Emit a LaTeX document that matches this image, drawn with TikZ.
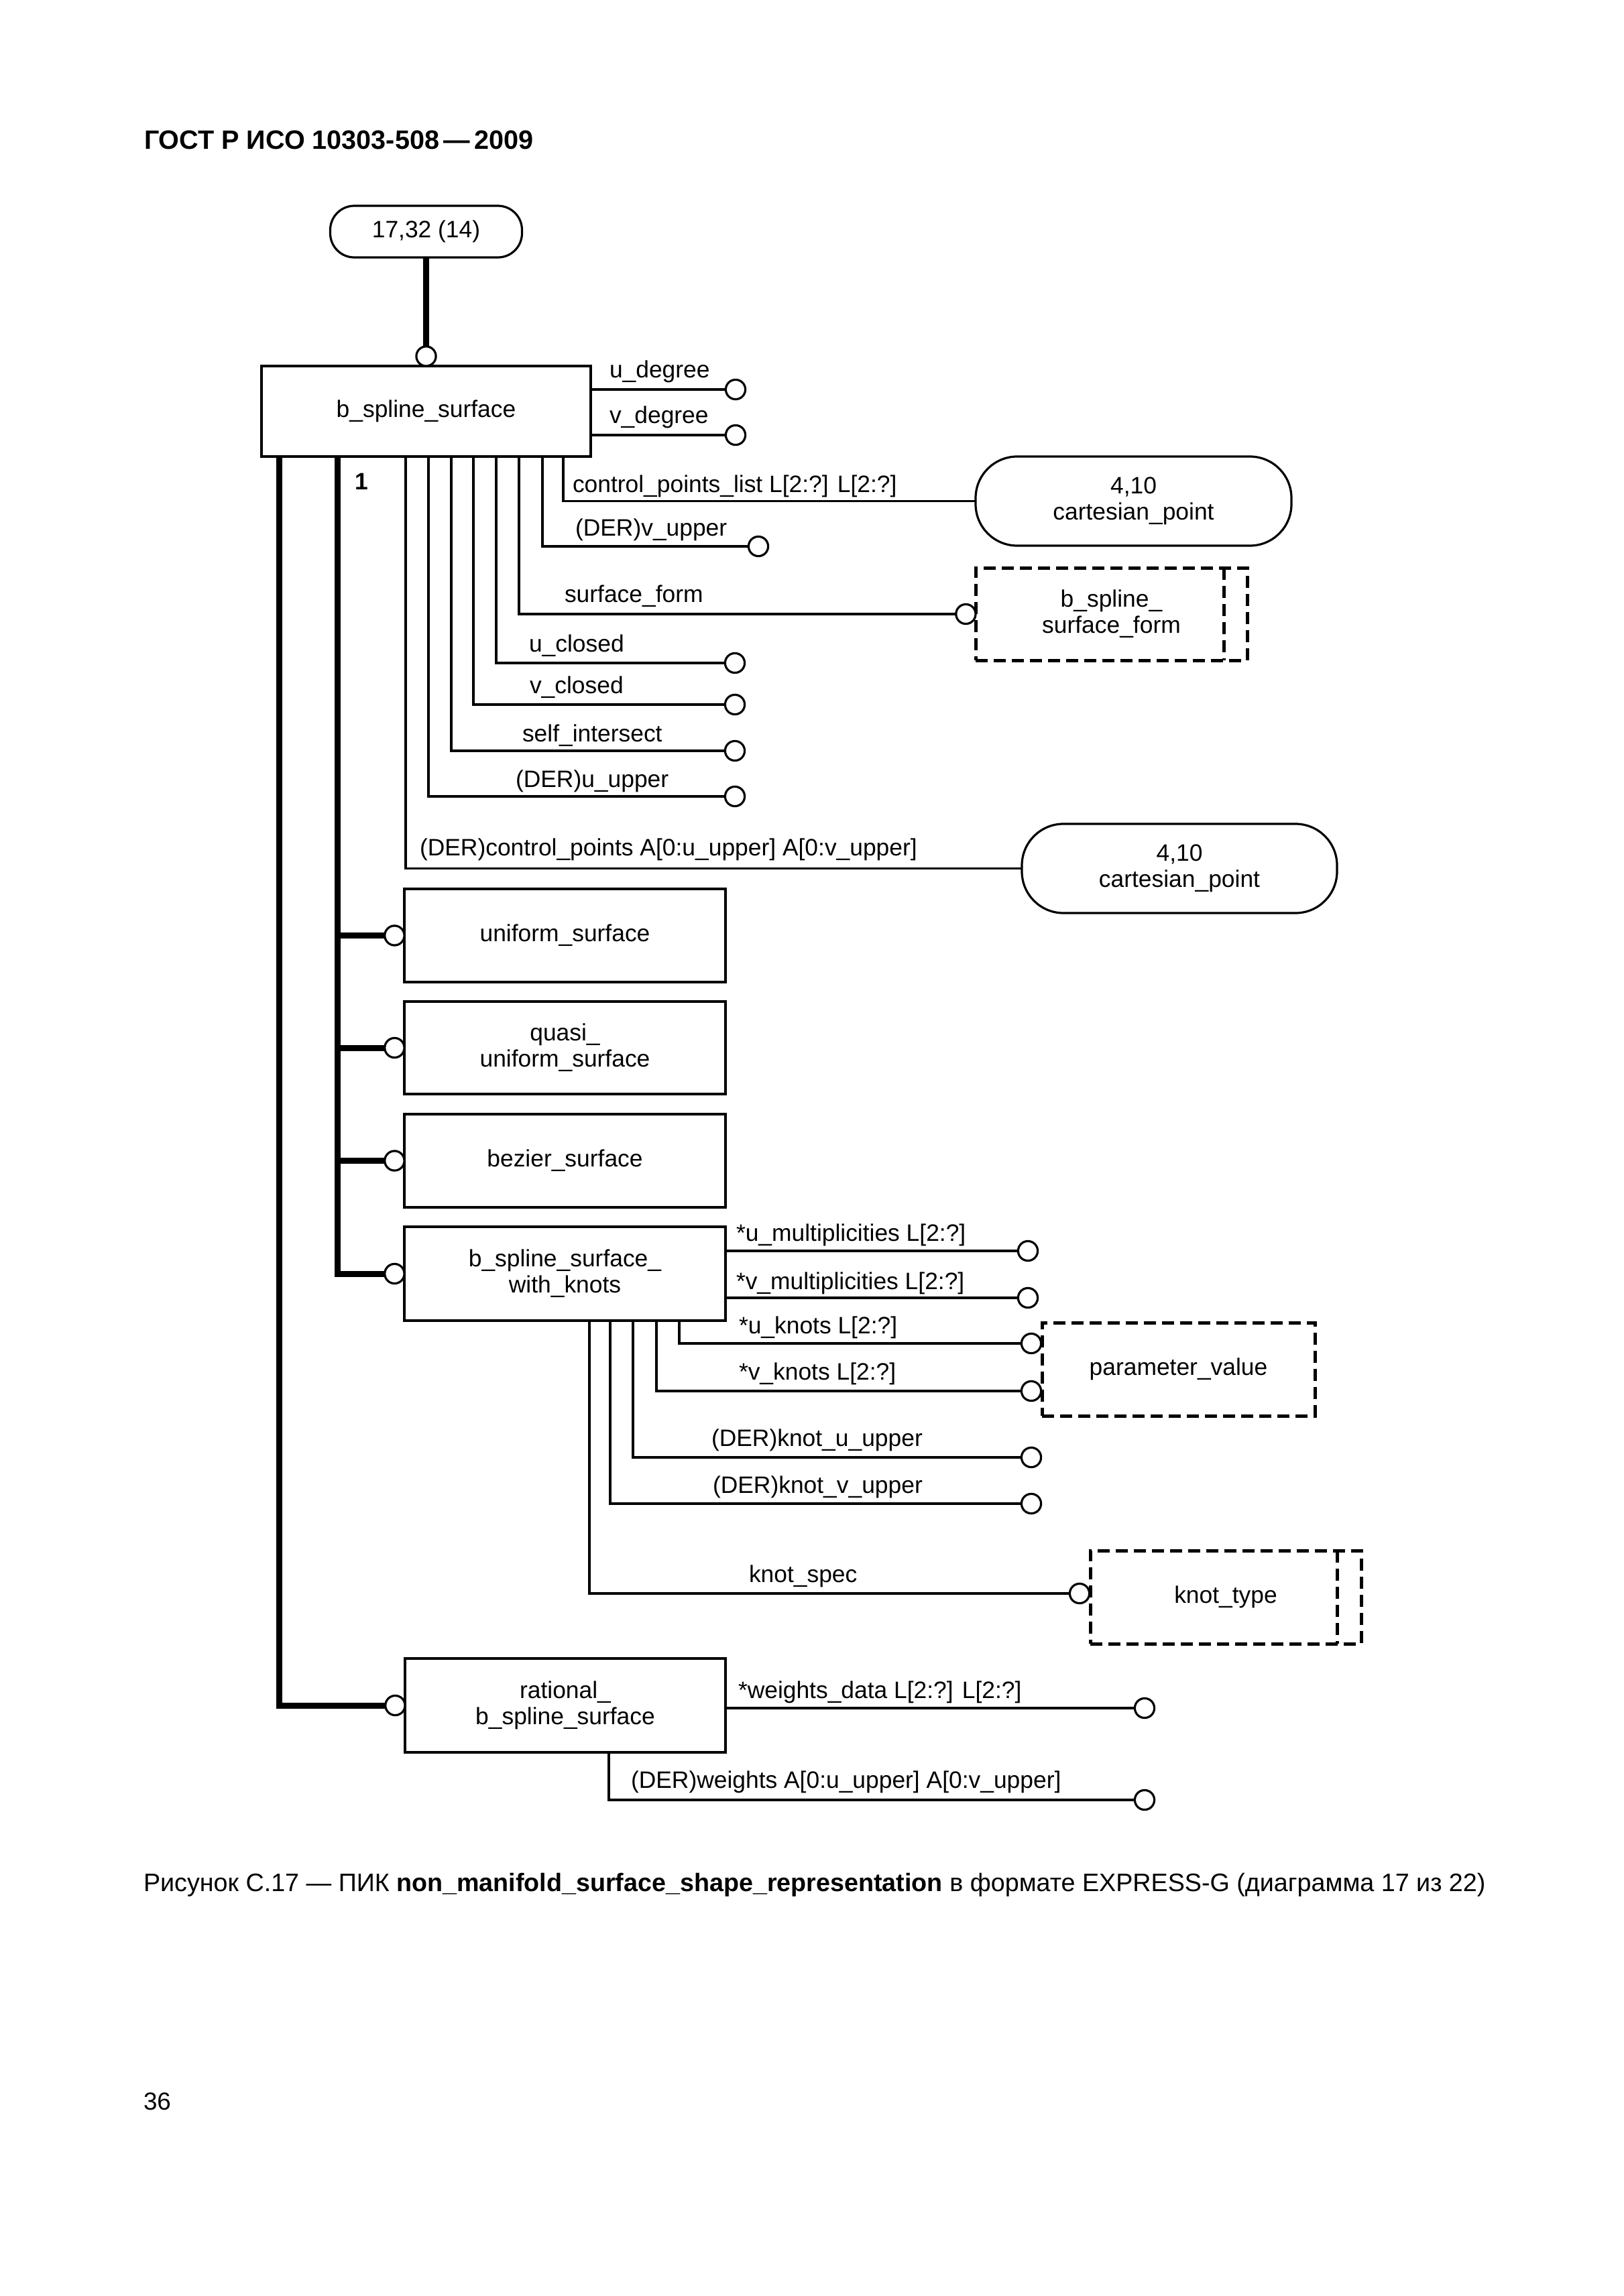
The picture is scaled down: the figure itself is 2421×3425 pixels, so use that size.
\documentclass[tikz,border=0pt]{standalone}
\usepackage{fontspec}
\setmainfont{Liberation Sans}
\usetikzlibrary{calc}
\newcommand\pxu{0.25pt}
\begin{document}
\begin{tikzpicture}[x=0.25pt,y=-0.25pt,
  font=\fontsize{8.85pt}{9.75pt}\selectfont,
  every node/.style={outer sep=0pt},
  ent/.style={draw, line width=0.8pt, inner sep=0pt, align=center},
  rnd/.style={ent, rounded corners=15.5pt},
  dbox/.style={draw, line width=1.25pt, dash pattern=on 4.5pt off 2.25pt, inner sep=0pt, align=center},
  dashl/.style={line width=1.25pt, dash pattern=on 4.5pt off 2.25pt},
  circ/.style={circle, draw, line width=0.8pt, fill=white, minimum size=7.3pt, inner sep=0pt},
  attr/.style={line width=0.8pt},
  sub/.style={line width=2.25pt},
  lbl/.style={anchor=base west, inner sep=0pt}]
\fill[white] (0,0) rectangle (2421,3425);
\useasboundingbox (0,0) rectangle (2421,3425);

% header
\node[lbl, font=\fontsize{9.9pt}{11pt}\selectfont\bfseries] (hdr) at (215,223) {ГОСТ Р ИСО 10303-508\,—\,2009};

% entities
\node[ent, rounded corners=9pt, minimum width=286*\pxu, minimum height=77*\pxu] (top) at (635.5,345.5) {17,32 (14)};
\node[ent, minimum width=491*\pxu, minimum height=135*\pxu] (bss) at (635.5,613.5) {b\_spline\_surface};
\node[rnd, minimum width=471*\pxu, minimum height=133*\pxu] (cp1) at (1690.5,747.5) {4,10\\cartesian\_point};
\node[dbox, minimum width=405*\pxu, minimum height=138*\pxu] (bsf) at (1657.5,916) {b\_spline\_\\surface\_form};
\draw[dashl] ([xshift=-35*\pxu]bsf.north east) -- ([xshift=-35*\pxu]bsf.south east);
\node[rnd, minimum width=470*\pxu, minimum height=133*\pxu] (cp2) at (1759,1295.5) {4,10\\cartesian\_point};
\node[ent, minimum width=479*\pxu, minimum height=139*\pxu] (uni) at (842.5,1395.5) {uniform\_surface};
\node[ent, minimum width=479*\pxu, minimum height=138*\pxu] (qua) at (842.5,1563) {quasi\_\\uniform\_surface};
\node[ent, minimum width=479*\pxu, minimum height=139*\pxu] (bez) at (842.5,1731.5) {bezier\_surface};
\node[ent, minimum width=479*\pxu, minimum height=140*\pxu] (bwk) at (842.5,1900) {b\_spline\_surface\_\\with\_knots};
\node[dbox, minimum width=407*\pxu, minimum height=139*\pxu] (pv) at (1757.5,2042.5) {parameter\_value};
\node[dbox, minimum width=404*\pxu, minimum height=139*\pxu] (kt) at (1828,2382.5) {knot\_type};
\draw[dashl] ([xshift=-36*\pxu]kt.north east) -- ([xshift=-36*\pxu]kt.south east);
\node[ent, minimum width=478*\pxu, minimum height=140*\pxu] (rat) at (843,2544) {rational\_\\b\_spline\_surface};

% circles
\node[circ, anchor=south] (topc) at (bss.north) {};
\node[circ] (udeg) at (1097,581) {};
\node[circ] (vdeg) at (1097,649) {};
\node[circ] (vup) at (1131,815) {};
\node[circ, anchor=east] (bsfc) at (bsf.west) {};
\node[circ] (ucl) at (1096,989) {};
\node[circ] (vcl) at (1096,1051) {};
\node[circ] (sin) at (1096,1120) {};
\node[circ] (uup) at (1096,1188) {};
\node[circ, anchor=east] (cs1) at (uni.west) {};
\node[circ, anchor=east] (cs2) at (qua.west) {};
\node[circ, anchor=east] (cs3) at (bez.west) {};
\node[circ, anchor=east] (cs4) at (bwk.west) {};
\node[circ, anchor=east] (cs5) at (rat.west) {};
\node[circ] (umul) at (1533,1866) {};
\node[circ] (vmul) at (1533,1936) {};
\node[circ] (ukn) at (1538,2004) {};
\node[circ] (vkn) at (1538,2075) {};
\node[circ] (kuu) at (1538,2174) {};
\node[circ] (kvu) at (1538,2243) {};
\node[circ] (ksp) at (1610,2377) {};
\node[circ] (wd) at (1707,2548) {};
\node[circ] (wt) at (1707,2685) {};

% drop points
\coordinate (tr) at ($(bss.south west)+(26,0)$);
\coordinate (tk) at ($(bss.south west)+(113,0)$);
\coordinate (d1) at ($(bss.south west)+(215,0)$);
\coordinate (d2) at ($(bss.south west)+(249,0)$);
\coordinate (d3) at ($(bss.south west)+(283,0)$);
\coordinate (d4) at ($(bss.south west)+(316,0)$);
\coordinate (d5) at ($(bss.south west)+(350,0)$);
\coordinate (d6) at ($(bss.south west)+(384,0)$);
\coordinate (d7) at ($(bss.south west)+(419,0)$);
\coordinate (d8) at ($(bss.south west)+(450,0)$);
\coordinate (k1) at ($(bwk.south west)+(276,0)$);
\coordinate (k2) at ($(bwk.south west)+(307,0)$);
\coordinate (k3) at ($(bwk.south west)+(341,0)$);
\coordinate (k4) at ($(bwk.south west)+(376,0)$);
\coordinate (k5) at ($(bwk.south west)+(410,0)$);
\coordinate (r1) at ($(rat.south west)+(304,0)$);

% connectors
\draw[sub] (top.south) -- (topc.north);
\draw[attr] (bss.east |- udeg) -- (udeg.west);
\draw[attr] (bss.east |- vdeg) -- (vdeg.west);
\draw[attr] (d8) |- (cp1.west);
\draw[attr] (d7) |- (vup.west);
\draw[attr] (d6) |- (bsfc.west);
\draw[attr] (d5) |- (ucl.west);
\draw[attr] (d4) |- (vcl.west);
\draw[attr] (d3) |- (sin.west);
\draw[attr] (d2) |- (uup.west);
\draw[attr] (d1) |- (cp2.west);
\draw[sub] (tk) |- (cs4.west);
\draw[sub] (tk |- cs1) -- (cs1.west);
\draw[sub] (tk |- cs2) -- (cs2.west);
\draw[sub] (tk |- cs3) -- (cs3.west);
\draw[sub] (tr) |- (cs5.west);
\draw[attr] (bwk.east |- umul) -- (umul.west);
\draw[attr] (bwk.east |- vmul) -- (vmul.west);
\draw[attr] (k5) |- (ukn.west);
\draw[attr] (k4) |- (vkn.west);
\draw[attr] (k3) |- (kuu.west);
\draw[attr] (k2) |- (kvu.west);
\draw[attr] (k1) |- (ksp.west);
\draw[attr] (rat.east |- wd) -- (wd.west);
\draw[attr] (r1) |- (wt.west);

% labels
\node[font=\fontsize{8.85pt}{9.75pt}\selectfont\bfseries] (one) at (539,718) {1};
\node[lbl] (l1) at (909,563) {u\_degree};
\node[lbl] (l2) at (909,631) {v\_degree};
\node[lbl] (l3) at (854,734) {control\_points\_list L[2:?] L[2:?]};
\node[lbl] (l4) at (858,799) {(DER)v\_upper};
\node[lbl] (l5) at (842,898) {surface\_form};
\node[lbl] (l6) at (789,972) {u\_closed};
\node[lbl] (l7) at (790,1034) {v\_closed};
\node[lbl] (l8) at (779,1106) {self\_intersect};
\node[lbl] (l9) at (769,1174) {(DER)u\_upper};
\node[lbl] (l10) at (626,1276) {(DER)control\_points A[0:u\_upper] A[0:v\_upper]};
\node[lbl] (l11) at (1098,1851) {*u\_multiplicities L[2:?]};
\node[lbl] (l12) at (1098,1923) {*v\_multiplicities L[2:?]};
\node[lbl] (l13) at (1102,1989) {*u\_knots L[2:?]};
\node[lbl] (l14) at (1102,2058) {*v\_knots L[2:?]};
\node[lbl] (l15) at (1061,2157) {(DER)knot\_u\_upper};
\node[lbl] (l16) at (1063,2227) {(DER)knot\_v\_upper};
\node[lbl] (l17) at (1117,2360) {knot\_spec};
\node[lbl] (l18) at (1101,2533) {*weights\_data L[2:?] L[2:?]};
\node[lbl] (l19) at (941,2667) {(DER)weights A[0:u\_upper] A[0:v\_upper]};

% caption and page number
\node[lbl, font=\fontsize{9.42pt}{11pt}\selectfont] (cap) at (214,2821) {Рисунок С.17 — ПИК \textbf{non\_manifold\_surface\_shape\_representation} в формате EXPRESS-G (диаграмма 17 из 22)};
\node[lbl, font=\fontsize{9.2pt}{11pt}\selectfont] (pg) at (214,3147) {36};
\end{tikzpicture}
\end{document}
